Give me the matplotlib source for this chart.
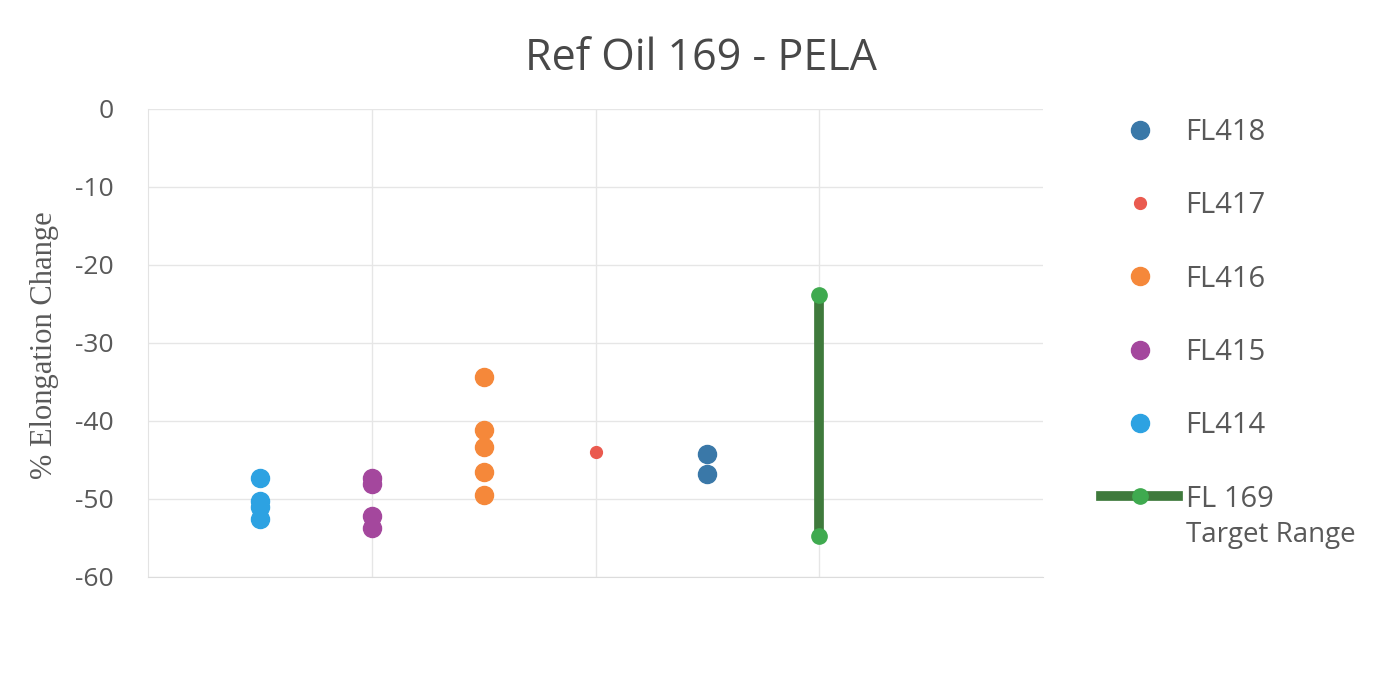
import matplotlib
matplotlib.use("Agg")
import matplotlib.pyplot as plt
from matplotlib.lines import Line2D

# ---- data ----
series_names = ["FL418", "FL417", "FL416", "FL415", "FL414"]
fl414_x = [0.5, 0.5, 0.5, 0.5]
fl414_y = [-47.3, -50.2, -51.0, -52.6]
fl415_x = [1.0, 1.0, 1.0, 1.0]
fl415_y = [-47.3, -48.1, -52.2, -53.7]
fl416_x = [1.5, 1.5, 1.5, 1.5, 1.5]
fl416_y = [-34.3, -41.1, -43.3, -46.5, -49.5]
fl417_x = [2.0]
fl417_y = [-44.0]
fl418_x = [2.5, 2.5]
fl418_y = [-44.2, -46.8]
target_x = [3.0, 3.0]
target_y = [-23.9, -54.7]
target_label = "FL 169"
target_label2 = "Target Range"
y_ticks = [0, -10, -20, -30, -40, -50, -60]
title = "Ref Oil 169 - PELA"
ylabel = "% Elongation Change"

# ---- style ----
plt.rcParams['font.family'] = ['Open Sans', 'DejaVu Sans']
plt.rcParams['axes.unicode_minus'] = False
txt = "#595959"
c418 = "#3a78a8"
c417 = "#ea5a4f"
c416 = "#f5883a"
c415 = "#a4479d"
c414 = "#2da2e2"
cline = "#3f7a3c"
cmark = "#3faa4f"

W, H = 1377, 692
fig = plt.figure(figsize=(W/100, H/100), dpi=100)
ax = fig.add_axes([148/W, 1-577/H, (1043-148)/W, (577-109)/H])

ms = 13
ax.plot(target_x, target_y, color=cline, lw=7, marker='o', ms=11,
        markerfacecolor=cmark, markeredgecolor=cmark, zorder=3, solid_capstyle='butt')
ax.plot(fl414_x, fl414_y, 'o', color=c414, ms=ms, ls='none', zorder=4)
ax.plot(fl415_x, fl415_y, 'o', color=c415, ms=ms, ls='none', zorder=4)
ax.plot(fl416_x, fl416_y, 'o', color=c416, ms=ms, ls='none', zorder=4)
ax.plot(fl417_x, fl417_y, 'o', color=c417, ms=8.5, ls='none', zorder=4)
ax.plot(fl418_x, fl418_y, 'o', color=c418, ms=ms, ls='none', zorder=4)

ax.set_xlim(0, 4)
ax.set_ylim(-60, 0)
ax.set_yticks(y_ticks)
ax.set_xticks([1, 2, 3])
ax.tick_params(axis='x', length=0, labelbottom=False)
ax.tick_params(axis='y', length=0, pad=25, labelsize=19, labelcolor=txt)
ax.grid(True, color="#e6e6e6", lw=1)
ax.set_axisbelow(True)
for s in ["top", "right"]:
    ax.spines[s].set_visible(False)
ax.spines["left"].set_color("#e3e3e3")
ax.spines["bottom"].set_color("#dcdcdc")

ax.set_ylabel(ylabel, fontsize=22, color=txt, family=['Liberation Serif'])
ax.yaxis.set_label_coords(-0.099, 0.495)

fig.text(0.509, 0.915, title, ha='center', va='center', fontsize=31, color="#484848")

handles = [
    Line2D([], [], ls='none', marker='o', ms=ms, color=c418),
    Line2D([], [], ls='none', marker='o', ms=8.5, color=c417),
    Line2D([], [], ls='none', marker='o', ms=ms, color=c416),
    Line2D([], [], ls='none', marker='o', ms=ms, color=c415),
    Line2D([], [], ls='none', marker='o', ms=ms, color=c414),
    Line2D([], [], color=cline, lw=7, marker='o', ms=11,
           markerfacecolor=cmark, markeredgecolor=cmark),
]
labels = series_names + [target_label]
leg = fig.legend(handles, labels, loc='upper left', bbox_to_anchor=(1101/W, 1-118/H),
                 frameon=False, fontsize=21, labelspacing=1.52, handlelength=2.65,
                 handletextpad=0.25, borderpad=0, borderaxespad=0, labelcolor=txt)

fig.canvas.draw()
t = leg.get_texts()[-1]
bb = t.get_window_extent()
cy = (bb.y0 + bb.y1) / 2
fig.text(bb.x0/W, (cy - 36)/H, target_label2, ha='left', va='center',
         fontsize=20, color=txt)

fig.savefig("out.png", dpi=100, facecolor='white')
